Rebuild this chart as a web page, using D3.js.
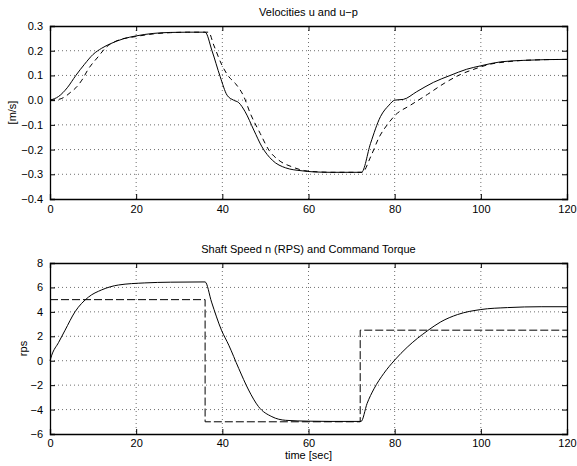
<!DOCTYPE html>
<html>
<head>
<meta charset="utf-8">
<script src="https://cdn.jsdelivr.net/npm/d3@7"></script>
<style>
html,body{margin:0;padding:0;background:#fff;}
svg{display:block;}
text{font-family:"Liberation Sans",Arial,Helvetica,sans-serif;fill:#000;}
</style>
</head>
<body>
<svg id="chart" width="577" height="466"></svg>
<script>
// ---- data ----
const uTime = [0,2,4,6,8,10,12,14,17,20,24,28,32,36,37.6,39.5,41.1,42.6,43.8,45.3,47.3,49.2,51.6,54.7,58.5,61,65,72.3,74.4,76.7,78.7,80,82,85.1,89,92.9,96.7,100,104.6,110,115,120];
const uVals = [0,0.015,0.05,0.1,0.145,0.185,0.21,0.228,0.248,0.26,0.27,0.274,0.275,0.275,0.2,0.095,0.02,0,-0.01,-0.047,-0.121,-0.189,-0.243,-0.274,-0.286,-0.29,-0.292,-0.292,-0.175,-0.067,-0.02,0,0.003,0.034,0.072,0.1,0.125,0.139,0.155,0.161,0.164,0.165];
const upTime = [0,2,3.1,5,6,7.4,8.9,11.2,12.8,15.9,19.8,24,28,32,36.8,38,39.9,41.5,43,45,46.5,48.8,50.8,53.1,56.2,59,62,66,72.5,74.4,76.4,78.7,80,83.7,87.6,91.5,95.3,98.4,102.3,106,110,120];
const upVals = [0,0.003,0.01,0.035,0.05,0.081,0.126,0.176,0.21,0.243,0.257,0.268,0.273,0.275,0.275,0.223,0.142,0.095,0.068,0.014,-0.054,-0.135,-0.202,-0.243,-0.27,-0.285,-0.29,-0.292,-0.292,-0.23,-0.15,-0.09,-0.063,-0.02,0.023,0.068,0.104,0.125,0.146,0.155,0.161,0.165];
const nTime = [0,0.4,2,3.5,5.8,8.9,12,15.9,22,28,36,37.5,39.8,41.5,43.8,46.1,48.4,51.5,54.7,60,65,72.2,73.6,75.2,77.5,80,82.9,87.6,90.7,94.6,100,106.2,114,120];
const nVals = [0,0.45,1.5,2.5,4.0,5.2,5.8,6.2,6.37,6.43,6.45,4.8,2.5,1.27,-0.63,-2.4,-3.76,-4.58,-4.88,-4.95,-4.97,-4.97,-3.5,-2.3,-1.03,0.05,1.1,2.45,3.18,3.78,4.19,4.35,4.42,4.42];
const cmdTime = [0,36,36,72,72,120];
const cmdVals = [5,5,-5,-5,2.5,2.5];
const xTicks = [0,20,40,60,80,100,120];
const topYTicks = [-0.4,-0.3,-0.2,-0.1,0,0.1,0.2,0.3];
const botYTicks = [-6,-4,-2,0,2,4,6,8];
const topTitle = "Velocities u and u\u2212p";
const botTitle = "Shaft Speed n (RPS) and Command Torque";
const topYLabel = "[m/s]";
const botYLabel = "rps";
const xLabel = "time [sec]";

// ---- drawing ----
const svg = d3.select("#chart");
const L = 50, R = 567;

function panel(top, bottom, yDomain, yTicks, yFmt, series, title, ylabel, ylabelX, xlabel, xPad) {
  const x = d3.scaleLinear().domain([0,120]).range([L,R]);
  const y = d3.scaleLinear().domain(yDomain).range([bottom, top]);
  const g = svg.append("g");
  // grid
  const grid = g.append("g").attr("stroke","#000").attr("stroke-width",0.8).attr("stroke-dasharray","1,3").attr("opacity",0.7);
  xTicks.slice(1,-1).forEach(t => grid.append("line").attr("x1",x(t)).attr("x2",x(t)).attr("y1",top).attr("y2",bottom));
  yTicks.slice(1,-1).forEach(t => grid.append("line").attr("x1",L).attr("x2",R).attr("y1",y(t)).attr("y2",y(t)));
  // axes
  const fmtY = v => yFmt(v).replace("-","\u2212");
  const ab = g.append("g").attr("transform",`translate(0,${bottom})`)
    .call(d3.axisBottom(x).tickValues(xTicks).tickSize(-5).tickPadding(xPad).tickFormat(d3.format("d")));
  const at = g.append("g").attr("transform",`translate(0,${top})`)
    .call(d3.axisTop(x).tickValues(xTicks).tickSize(-5).tickFormat(""));
  const al = g.append("g").attr("transform",`translate(${L},0)`)
    .call(d3.axisLeft(y).tickValues(yTicks).tickSize(-5).tickPadding(7).tickFormat(fmtY));
  const ar = g.append("g").attr("transform",`translate(${R},0)`)
    .call(d3.axisRight(y).tickValues(yTicks).tickSize(-5).tickFormat(""));
  [ab,at,al,ar].forEach(a => {
    a.selectAll("path").attr("stroke","#000").attr("stroke-width",1.3);
    a.selectAll("line").attr("stroke","#000").attr("stroke-width",1);
    a.selectAll("text").attr("font-size",11).attr("font-family","Liberation Sans, Arial, sans-serif").attr("fill","#000");
  });
  // series
  series.forEach(s => {
    const pts = s.t.map((t,i)=>[t,s.v[i]]);
    const line = d3.line().x(d=>x(d[0])).y(d=>y(d[1])).curve(s.curve);
    g.append("path").datum(pts).attr("d",line).attr("fill","none")
      .attr("stroke","#000").attr("stroke-width",1)
      .attr("stroke-dasharray", s.dash || null);
  });
  // labels
  g.append("text").attr("x",(L+R)/2).attr("y",top-10).attr("text-anchor","middle").attr("font-size",11).text(title);
  g.append("text").attr("transform",`translate(${ylabelX},${(top+bottom)/2}) rotate(-90)`).attr("text-anchor","middle").attr("font-size",11).text(ylabel);
  if (xlabel) g.append("text").attr("x",(L+R)/2).attr("y",bottom+25).attr("text-anchor","middle").attr("font-size",11).text(xlabel);
}

panel(26, 199, [-0.4,0.3], topYTicks, d3.format(".1f"), [
  {t:upTime, v:upVals, dash:"5,4", curve:d3.curveMonotoneX},
  {t:uTime, v:uVals, curve:d3.curveMonotoneX}
], topTitle, topYLabel, 16, null, 6);

panel(263, 434, [-6,8], botYTicks, d3.format("d"), [
  {t:cmdTime, v:cmdVals, dash:"8,3", curve:d3.curveLinear},
  {t:nTime, v:nVals, curve:d3.curveMonotoneX}
], botTitle, botYLabel, 27, xLabel, 5);
</script>
</body>
</html>
